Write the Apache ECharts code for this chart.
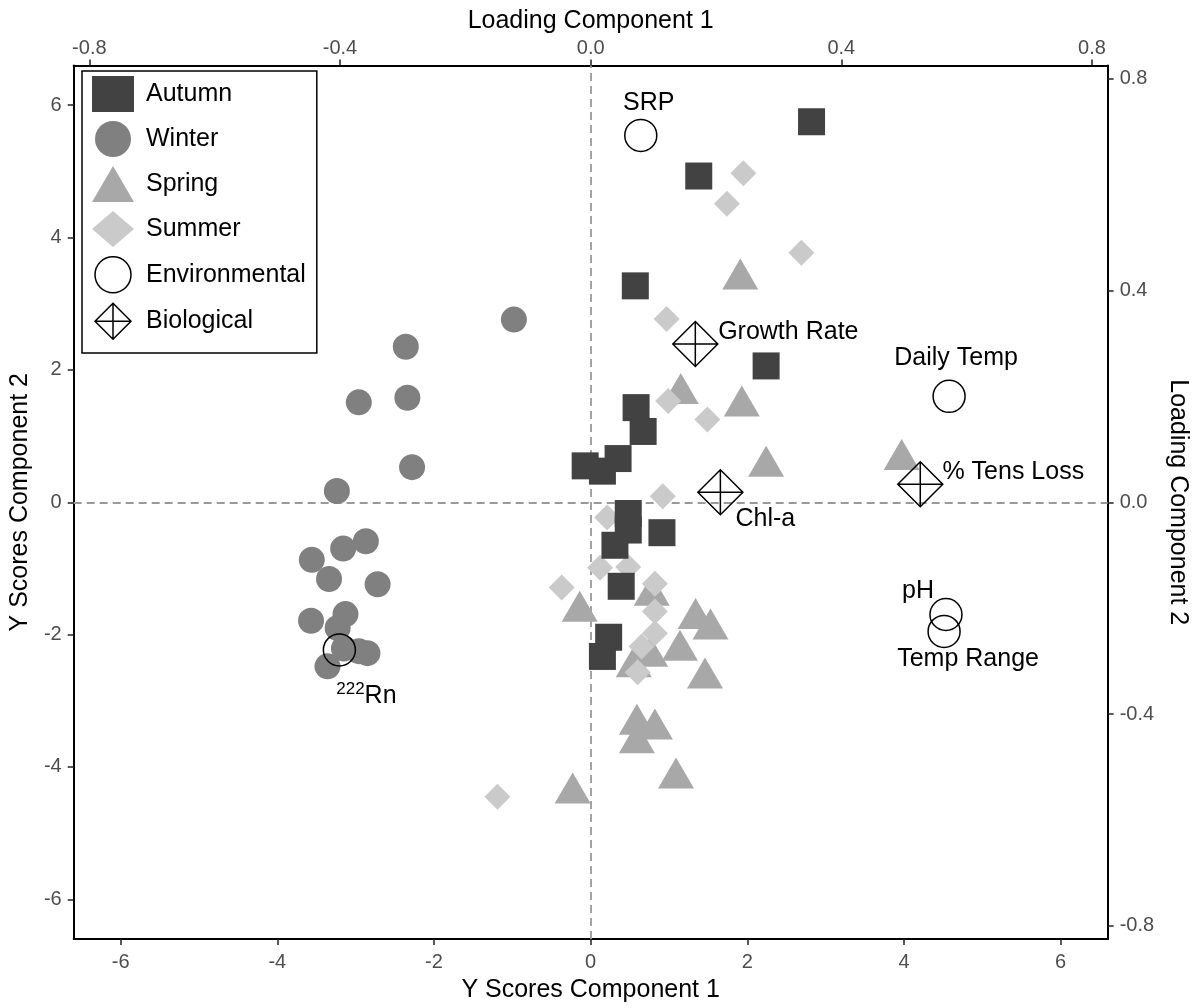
<!DOCTYPE html>
<html><head><meta charset="utf-8">
<script src="https://cdn.jsdelivr.net/npm/echarts@6/dist/echarts.min.js"></script>
<style>html,body{margin:0;padding:0;background:#fff;overflow:hidden;width:100%;height:100%}#chart{width:100vw;height:100vh}</style>
</head><body><div id="chart"></div>
<script>
// ---- Scores (Y Scores Component 1, Y Scores Component 2) ----
const autumn = [
  [2.82, 5.75], [1.38, 4.93], [0.57, 3.27], [2.24, 2.06], [0.58, 1.43], [0.67, 1.07],
  [-0.07, 0.55], [0.15, 0.47], [0.35, 0.66], [0.48, -0.17], [0.48, -0.42], [0.91, -0.46],
  [0.31, -0.65], [0.39, -1.27], [0.23, -2.04], [0.15, -2.33]
];
const winter = [
  [-0.98, 2.76], [-2.36, 2.35], [-2.34, 1.58], [-2.96, 1.51], [-2.28, 0.53], [-3.24, 0.17],
  [-2.87, -0.59], [-3.16, -0.70], [-3.56, -0.87], [-3.34, -1.16], [-2.72, -1.24], [-3.13, -1.69],
  [-3.57, -1.79], [-3.23, -1.90], [-3.15, -2.21], [-2.96, -2.25], [-2.85, -2.28], [-3.36, -2.48]
];
const spring = [
  [1.91, 3.45], [1.15, 1.72], [1.93, 1.53], [2.24, 0.62], [3.97, 0.72], [0.78, -1.33],
  [-0.14, -1.57], [1.34, -1.68], [1.53, -1.84], [1.14, -2.16], [0.76, -2.25], [0.55, -2.41],
  [1.46, -2.58], [0.59, -3.28], [0.82, -3.35], [0.59, -3.56], [1.09, -4.09], [-0.23, -4.32]
];
const summer = [
  [1.95, 4.97], [1.74, 4.51], [2.69, 3.77], [0.97, 2.77], [0.99, 1.53], [1.49, 1.25],
  [0.92, 0.09], [0.21, -0.23], [0.12, -0.99], [0.48, -0.98], [0.82, -1.23], [-0.37, -1.29],
  [0.82, -1.65], [0.82, -1.98], [0.65, -2.18], [0.60, -2.57], [-1.19, -4.45]
];
// ---- Loadings (Loading Component 1, Loading Component 2) ----
const envNames = ['SRP', 'Daily Temp', 'pH', 'Temp Range', '222Rn'];
const envLoadings = [[0.080, 0.693], [0.572, 0.200], [0.567, -0.212], [0.564, -0.244], [-0.401, -0.279]];
const bioNames = ['Growth Rate', 'Chl-a', '% Tens Loss'];
const bioLoadings = [[0.167, 0.299], [0.207, 0.019], [0.526, 0.034]];
// ---- Tick labels ----
const scoreTicks = [-6, -4, -2, 0, 2, 4, 6];
const loadingTicks = [-0.8, -0.4, 0, 0.4, 0.8];
const legendNames = ['Autumn', 'Winter', 'Spring', 'Summer', 'Environmental', 'Biological'];

// ---- styling (not data) ----
const FONT = '"Liberation Sans", Arial, Helvetica, sans-serif';
const labelOffset = {
  'SRP': [8, -32], 'Daily Temp': [7, -38], 'pH': [-28, -23], 'Temp Range': [24, 28],
  '222Rn': [27, 46], 'Growth Rate': [93, -12], 'Chl-a': [45, 27], '% Tens Loss': [93, -12]
};
const BIO_PATH = 'path://M0,-10 L10,0 L0,10 L-10,0 Z M0,-10 L0,10 M-10,0 L10,0';
const legendIcons = {
  'Autumn': 'rect', 'Winter': 'circle', 'Spring': 'triangle', 'Summer': 'diamond',
  'Environmental': 'circle', 'Biological': BIO_PATH
};
const openStyle = { color: 'transparent', borderColor: '#000', borderWidth: 1.5 };

function valueAxis(opts) {
  return Object.assign({
    type: 'value',
    splitLine: { show: false },
    axisLine: { show: true, onZero: false, lineStyle: { color: '#000', width: 2 } },
    nameLocation: 'middle',
    nameTextStyle: { fontSize: 25, color: '#000', fontFamily: FONT }
  }, opts);
}
function ticks(values) {
  return { show: true, inside: false, length: 6, customValues: values, lineStyle: { color: '#222', width: 1.5 } };
}
function tickLabel(values, fmt, margin) {
  return {
    customValues: values, fontSize: 20, color: '#4d4d4d', fontFamily: FONT, margin: margin,
    formatter: fmt, showMinLabel: true, showMaxLabel: true
  };
}
const fmtScore = v => String(Math.round(v));
const fmtLoad = v => (Math.abs(v) < 1e-9 ? 0 : v).toFixed(1);

function loadingData(names, pts) {
  return pts.map((p, i) => ({
    name: names[i], value: p,
    label: { offset: labelOffset[names[i]] }
  }));
}
const labelBase = {
  show: true, position: 'inside', color: '#000', fontSize: 25, fontFamily: FONT,
  textBorderWidth: 0, align: 'center', verticalAlign: 'middle'
};

const chart = echarts.init(document.getElementById('chart'), null, { renderer: 'canvas' });
chart.setOption({
  animation: false,
  backgroundColor: '#fff',
  textStyle: { fontFamily: FONT },
  grid: { left: 73.5, right: 85, top: 65.5, bottom: 66, containLabel: false },
  xAxis: [
    valueAxis({
      position: 'bottom', min: -6.6, max: 6.6,
      name: 'Y Scores Component 1', nameGap: 39,
      axisTick: ticks(scoreTicks),
      axisLabel: tickLabel(scoreTicks, fmtScore, 13)
    }),
    valueAxis({
      position: 'top', min: -0.825, max: 0.825,
      name: 'Loading Component 1', nameGap: 30,
      axisTick: ticks(loadingTicks),
      axisLabel: tickLabel(loadingTicks, fmtLoad, 7)
    })
  ],
  yAxis: [
    valueAxis({
      position: 'left', min: -6.6, max: 6.6,
      name: 'Y Scores Component 2', nameGap: 32, nameRotate: 90,
      axisTick: ticks(scoreTicks),
      axisLabel: tickLabel(scoreTicks, fmtScore, 12)
    }),
    valueAxis({
      position: 'right', min: -0.825, max: 0.825,
      name: 'Loading Component 2', nameGap: 45, nameRotate: -90,
      axisTick: ticks(loadingTicks),
      axisLabel: tickLabel(loadingTicks, fmtLoad, 12)
    })
  ],
  legend: {
    orient: 'vertical', left: 82, top: 71,
    padding: [5, 11, 13, 10],
    itemWidth: 42, itemHeight: 36, itemGap: 9,
    backgroundColor: '#fff', borderColor: '#000', borderWidth: 1.5, borderRadius: 0,
    textStyle: { fontSize: 25, color: '#000', fontFamily: FONT, padding: [0, 0, 0, 7] },
    data: legendNames.map(n => {
      const item = { name: n, icon: legendIcons[n] };
      if (n === 'Environmental' || n === 'Biological') item.itemStyle = openStyle;
      return item;
    })
  },
  series: [
    {
      name: 'Spring', type: 'scatter', xAxisIndex: 0, yAxisIndex: 0, z: 2,
      symbol: 'triangle', symbolSize: [36, 31], itemStyle: { color: '#a8a8a8', opacity: 1 },
      data: spring,
      markLine: {
        silent: true, z: 1, symbol: ['none', 'none'], label: { show: false },
        lineStyle: { type: [8, 5], color: '#9a9a9a', width: 1.8 },
        emphasis: { disabled: true },
        data: [{ xAxis: 0 }, { yAxis: 0 }]
      }
    },
    {
      name: 'Summer', type: 'scatter', xAxisIndex: 0, yAxisIndex: 0, z: 3,
      symbol: 'diamond', symbolSize: 26, itemStyle: { color: '#cacaca', opacity: 1 },
      data: summer
    },
    {
      name: 'Autumn', type: 'scatter', xAxisIndex: 0, yAxisIndex: 0, z: 4,
      symbol: 'rect', symbolSize: 27, itemStyle: { color: '#424242', opacity: 1 },
      data: autumn
    },
    {
      name: 'Winter', type: 'scatter', xAxisIndex: 0, yAxisIndex: 0, z: 4,
      symbol: 'circle', symbolSize: 26, itemStyle: { color: '#808080', opacity: 1 },
      data: winter
    },
    {
      name: 'Environmental', type: 'scatter', xAxisIndex: 1, yAxisIndex: 1, z: 6,
      symbol: 'circle', symbolSize: 32,
      itemStyle: Object.assign({ opacity: 1 }, openStyle),
      label: Object.assign({}, labelBase, {
        formatter: p => p.name === '222Rn' ? '{sup|222}{base|Rn}' : p.name,
        rich: {
          sup: { fontSize: 17, lineHeight: 8, verticalAlign: 'top', color: '#000', fontFamily: FONT },
          base: { fontSize: 25, lineHeight: 30, color: '#000', fontFamily: FONT }
        }
      }),
      data: loadingData(envNames, envLoadings)
    },
    {
      name: 'Biological', type: 'scatter', xAxisIndex: 1, yAxisIndex: 1, z: 6,
      symbol: BIO_PATH, symbolSize: 45,
      itemStyle: Object.assign({ opacity: 1 }, openStyle),
      label: Object.assign({}, labelBase, { formatter: p => p.name }),
      data: loadingData(bioNames, bioLoadings)
    }
  ]
});
window.addEventListener('resize', () => chart.resize());
</script>
</body></html>
